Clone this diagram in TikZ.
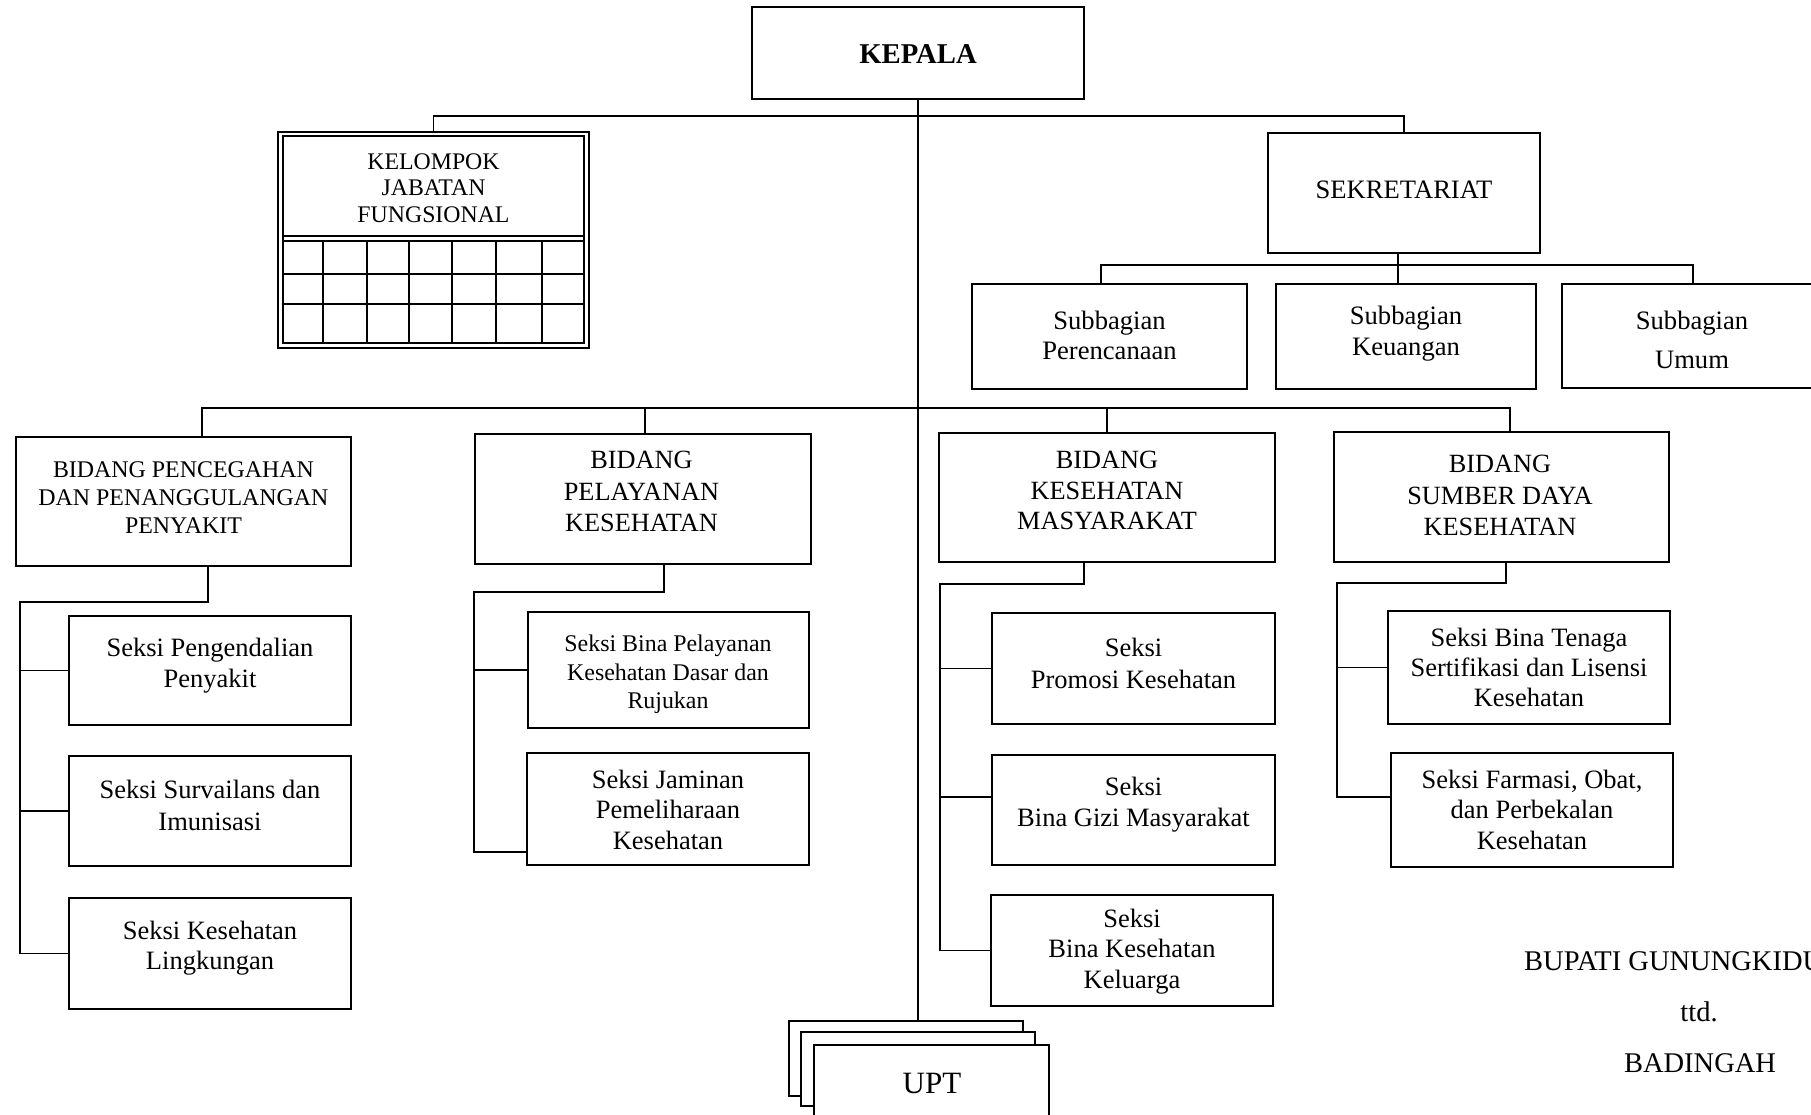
\documentclass[tikz,border=0pt]{standalone}
\usepackage{fontspec}
\setmainfont{Liberation Serif}
\usetikzlibrary{calc}
\newcommand\fsz[2]{\fontsize{#1}{#2}\selectfont}
\newcommand\bx[5]{\node[box,minimum width=#4pt,minimum height=#5pt] (#1) at (#2,#3) {};}
\tikzset{
  box/.style={draw, line width=2pt, fill=white, inner sep=0pt, outer sep=0pt},
  conn/.style={line width=1.7pt},
  txt/.style={align=center, inner sep=0pt},
  grid/.style={line width=1.6pt},
}
\begin{document}
\begin{tikzpicture}[x=1pt,y=-1pt]
\useasboundingbox (0,0) rectangle (1811,1115);
\clip (0,0) rectangle (1811,1115);
\fill[white] (0,0) rectangle (1811,1115);

% ---- boxes
\bx{kep}{918}{53}{332}{92}
\node[draw, line width=1.2pt, inner sep=0pt, outer sep=0pt, minimum width=311pt, minimum height=216pt] (kjf) at (433.5,240) {};
\node[draw, line width=2.2pt, inner sep=0pt, outer sep=0pt, minimum width=301pt, minimum height=207pt] (kjfin) at (433.5,239.5) {};
\bx{sek}{1404}{193}{272}{120}
\bx{per}{1109.25}{336.5}{275.5}{105}
\bx{keu}{1406}{336.5}{260}{105}
\bx{umu}{1693}{336}{262}{104}
\bx{pen}{183.25}{501.5}{335.5}{129}
\bx{pel}{643}{499}{336}{130}
\bx{kes}{1107}{497.5}{336}{129}
\bx{sdk}{1501.25}{497}{335.5}{130}
\bx{s11}{210}{670.5}{282}{109}
\bx{s12}{210}{811}{282}{110}
\bx{s13}{210}{953.5}{282}{111}
\bx{s21}{668.5}{670}{281}{116}
\bx{s22}{668}{809}{282}{112}
\bx{s31}{1133.5}{668.5}{283}{111}
\bx{s32}{1133.5}{810}{283}{110}
\bx{s33}{1132}{950.5}{282}{111}
\bx{s41}{1529}{667.5}{282}{113}
\bx{s42}{1532}{810}{282}{114}
\bx{upa}{906}{1058.5}{234}{75}
\bx{upb}{918}{1069}{234}{74}
\bx{upc}{931.5}{1082.5}{235}{75}

% ---- grid of the Kelompok Jabatan Fungsional box
\draw[grid] (283,236) -- (584,236);
\draw[grid] (283,241) -- (584,241);
\draw[grid] (283,274) -- (584,274);
\draw[grid] (283,304) -- (584,304);
\foreach \gx in {323,367,409,452,496,542}
  \draw[grid] (\gx,241) -- (\gx,343);

% ---- connectors
\draw[conn] (kep.south) -- (kep.south |- upa.north);
\draw[conn] (kjf.north) -- ++(0,-16) -| (sek.north);
\draw[conn] ($(sek.south)+(-6,0)$) -- ($(sek.south)+(-6,31)$);
\draw[conn] ($(per.north)+(-8,0)$) -- ++(0,-19) -| (umu.north);
\draw[conn] ($(pen.north)+(19,0)$) -- ++(0,-29) -| ($(sdk.north)+(9,0)$);
\draw[conn] ($(pel.north)+(2,0)$) -- ++(0,-26);
\draw[conn] (kes.north) -- ++(0,-25);

\coordinate (p1) at (20,602);
\draw[conn] ($(pen.south)+(25,0)$) |- (p1) |- (s13.west);
\draw[conn] (s11.west) -- (s11.west -| p1);
\draw[conn] (s12.west) -- (s12.west -| p1);

\coordinate (p2) at (474,592);
\coordinate (q22) at ($(s22.west)+(0,43)$);
\draw[conn] ($(pel.south)+(21,0)$) |- (p2) |- (q22);
\draw[conn] (s21.west) -- (s21.west -| p2);

\coordinate (p3) at (940,584);
\coordinate (q32) at ($(s32.west)+(0,-13)$);
\draw[conn] ($(kes.south)+(-23,0)$) |- (p3) |- (s33.west);
\draw[conn] (s31.west) -- (s31.west -| p3);
\draw[conn] (q32) -- (q32 -| p3);

\coordinate (p4) at (1337,583);
\coordinate (q42) at ($(s42.west)+(0,-13)$);
\draw[conn] ($(sdk.south)+(4.75,0)$) |- (p4) |- (q42);
\draw[conn] (s41.west) -- (s41.west -| p4);

% ---- texts
\node[txt, font=\fsz{28.7}{33}\bfseries] (tkep) at (918,54) {KEPALA};
\node[txt, font=\fsz{23.8}{26.5}] (tkjf) at (433.5,188) {KELOMPOK\\JABATAN\\FUNGSIONAL};
\node[txt, font=\fsz{26.6}{31}] (tsek) at (1404,190) {SEKRETARIAT};
\node[txt, font=\fsz{26.6}{30}] (tper) at (1109.5,335) {Subbagian\\Perencanaan};
\node[txt, font=\fsz{26.6}{31}] (tkeu) at (1406,334) {Subbagian\\Keuangan};
\node[txt, font=\fsz{26.6}{39}] (tumu) at (1692,339.5) {Subbagian\\Umum};
\node[txt, font=\fsz{23.9}{28}] (tpen) at (183.5,498) {BIDANG PENCEGAHAN\\DAN PENANGGULANGAN\\PENYAKIT};
\node[txt, font=\fsz{26.3}{31.5}] (tpel) at (641.5,491.5) {BIDANG\\PELAYANAN\\KESEHATAN};
\node[txt, font=\fsz{26.3}{30.5}] (tkes) at (1107,490.5) {BIDANG\\KESEHATAN\\MASYARAKAT};
\node[txt, font=\fsz{26.3}{31.5}] (tsdk) at (1500,495.5) {BIDANG\\SUMBER DAYA\\KESEHATAN};
\node[txt, font=\fsz{26.5}{31.5}] (t11) at (210,665.5) {Seksi Pengendalian\\Penyakit};
\node[txt, font=\fsz{26.5}{32}] (t12) at (210,805.5) {Seksi Survailans dan\\Imunisasi};
\node[txt, font=\fsz{26.5}{30}] (t13) at (210,948) {Seksi Kesehatan\\Lingkungan};
\node[txt, font=\fsz{23.9}{28.5}] (t21) at (668,674.5) {Seksi Bina Pelayanan\\Kesehatan Dasar dan\\Rujukan};
\node[txt, font=\fsz{26.5}{30.5}] (t22) at (668,809.5) {Seksi Jaminan\\Pemeliharaan\\Kesehatan};
\node[txt, font=\fsz{26.5}{32}] (t31) at (1133.5,663) {Seksi\\Promosi Kesehatan};
\node[txt, font=\fsz{26.5}{31}] (t32) at (1133.5,804.5) {Seksi\\Bina Gizi Masyarakat};
\node[txt, font=\fsz{26.5}{30.5}] (t33) at (1132,951.5) {Seksi\\Bina Kesehatan\\Keluarga};
\node[txt, font=\fsz{26.5}{30}] (t41) at (1529,667.5) {Seksi Bina Tenaga\\Sertifikasi dan Lisensi\\Kesehatan};
\node[txt, font=\fsz{26.5}{30.5}] (t42) at (1532,809.5) {Seksi Farmasi, Obat,\\dan Perbekalan\\Kesehatan};
\node[txt, font=\fsz{31}{35}] (tupt) at (932,1083) {UPT};

\node[txt, font=\fsz{28.5}{33}, anchor=west] (tbup) at (1524,961) {BUPATI GUNUNGKIDUL};
\node[txt, font=\fsz{28.5}{33}] (tttd) at (1699,1012) {ttd.};
\node[txt, font=\fsz{28.5}{33}] (tbad) at (1700,1063) {BADINGAH};
\end{tikzpicture}
\end{document}
